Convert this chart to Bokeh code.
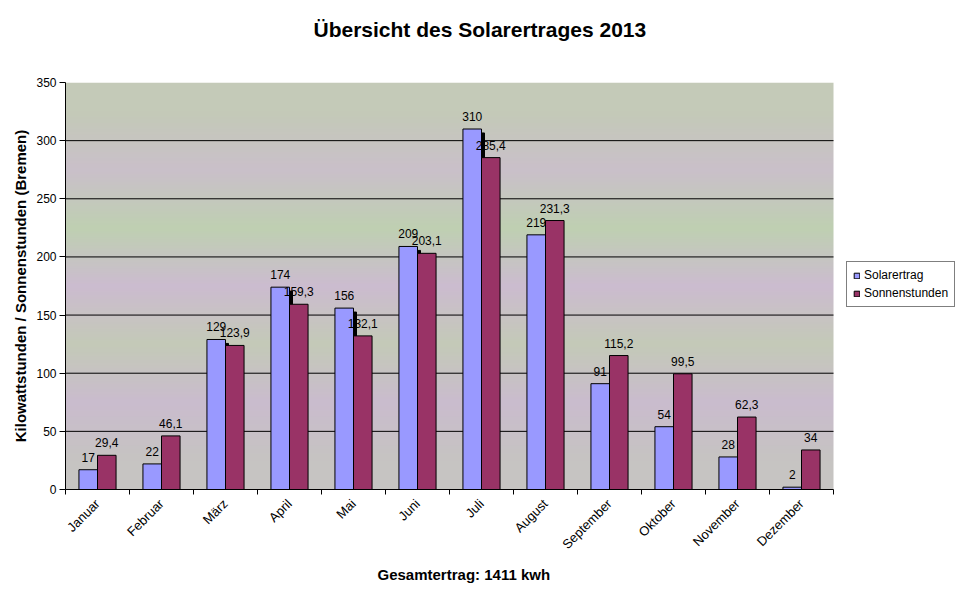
import numpy as np
from bokeh.plotting import figure
from bokeh.models import (FixedTicker, ColumnDataSource, Legend, LegendItem,
                          Range1d, Title)
from bokeh.transform import dodge
from bokeh.embed import file_html
from bokeh.resources import INLINE
from bokeh.core.properties import value

# ---- data ----
months = ["Januar", "Februar", "März", "April", "Mai", "Juni", "Juli",
          "August", "September", "Oktober", "November", "Dezember"]
solarertrag = [17, 22, 129, 174, 156, 209, 310, 219, 91, 54, 28, 2]
sonnenstunden = [29.4, 46.1, 123.9, 159.3, 132.1, 203.1, 285.4, 231.3,
                 115.2, 99.5, 62.3, 34]
y_ticks = [0, 50, 100, 150, 200, 250, 300, 350]
grid_ticks = [50, 100, 150, 200, 250, 300]
gesamtertrag = 1411

FONT = "Liberation Sans"
BLUE = "#9999FF"
MAROON = "#993366"

# ---- layout (pixels) ----
W, H = 958, 590
LEFT, TOP, BOTTOM, RIGHT = 65, 82, 101, 2
DATA_W = 768                       # width of the bar area
FRAME_W = W - LEFT - RIGHT
n = len(months)
x_end = n * FRAME_W / DATA_W       # room on the right for the legend


def de(v):
    return f"{v:g}".replace(".", ",")


xpos = [i + 0.5 for i in range(n)]
src = ColumnDataSource(dict(
    x=xpos,
    sol=solarertrag,
    son=sonnenstunden,
    shadow=[v - 3.4 for v in solarertrag],
    sol_lbl=[de(v) for v in solarertrag],
    son_lbl=[de(v) for v in sonnenstunden],
))

p = figure(width=W, height=H, output_backend="svg", toolbar_location=None,
           x_range=Range1d(0, x_end), y_range=Range1d(0, 350),
           min_border_left=LEFT, min_border_right=RIGHT, min_border_top=TOP,
           min_border_bottom=BOTTOM)
p.outline_line_color = None
p.background_fill_color = "white"
p.border_fill_color = "white"
p.xgrid.visible = False
p.ygrid.visible = False

# background gradient of the plot area (banded, like the dithered original)
band_y = [0, 25, 75, 125, 175, 225, 275, 325, 350]
band_c = ["#C6C4C2", "#C6C4C2", "#CABCCE", "#C4CAB8", "#CCBCD0", "#BFD0B2",
          "#CAC0CA", "#C4CAB8", "#C4CAB8"]
rows = 350
ys = np.linspace(0, 350, rows)
rgb = np.array([[int(c[i:i + 2], 16) for i in (1, 3, 5)] for c in band_c], float)
img = np.zeros((rows, 1), dtype=np.uint32)
view = img.view(dtype=np.uint8).reshape((rows, 1, 4))
for k in range(3):
    view[:, 0, k] = np.interp(ys, band_y, rgb[:, k]).astype(np.uint8)
view[:, 0, 3] = 255
p.image_rgba(image=[img], x=0, y=0, dw=n, dh=350, level="image")

# horizontal grid lines, only across the bar area
p.segment(x0=[0] * len(grid_ticks), x1=[n] * len(grid_ticks),
          y0=grid_ticks, y1=grid_ticks, line_color="black", line_width=1)

# bars
bw = 0.29
off = 0.145
p.vbar(x=dodge("x", -off + 0.047, range=p.x_range), top="shadow", width=bw,
       bottom=0, source=src, fill_color="black", line_color="black")
r1 = p.vbar(x=dodge("x", -off, range=p.x_range), top="sol", width=bw, source=src,
            fill_color=BLUE, line_color="black", line_width=1)
r2 = p.vbar(x=dodge("x", off, range=p.x_range), top="son", width=bw, source=src,
            fill_color=MAROON, line_color="black", line_width=1)

p.text(x=dodge("x", -off, range=p.x_range), y="sol", text="sol_lbl", source=src,
       text_align="center", text_baseline="bottom", y_offset=-8,
       text_font=value(FONT), text_font_size="12px", text_color="black")
p.text(x=dodge("x", off, range=p.x_range), y="son", text="son_lbl", source=src,
       text_align="center", text_baseline="bottom", y_offset=-8,
       text_font=value(FONT), text_font_size="12px", text_color="black")

# axes
ya = p.yaxis[0]
ya.ticker = FixedTicker(ticks=y_ticks)
ya.axis_label = "Kilowattstunden / Sonnenstunden (Bremen)"
ya.axis_label_text_font = FONT
ya.axis_label_text_font_style = "bold"
ya.axis_label_text_font_size = "15px"
ya.axis_label_text_color = "black"
ya.axis_label_standoff = 4
ya.major_label_text_font = FONT
ya.major_label_text_font_size = "12px"
ya.major_label_text_color = "black"
ya.major_label_standoff = 3
ya.major_tick_in = 0
ya.major_tick_out = 6
ya.minor_tick_line_color = None
ya.axis_line_color = "black"
ya.major_tick_line_color = "black"

xa = p.xaxis[0]
xa.bounds = (0, n)
xa.ticker = FixedTicker(ticks=xpos, minor_ticks=list(range(n + 1)))
xa.major_label_overrides = {x: m for x, m in zip(xpos, months)}
xa.major_label_orientation = np.pi / 4
xa.major_label_text_font = FONT
xa.major_label_text_font_size = "13px"
xa.major_label_text_color = "black"
xa.major_label_standoff = 6
xa.major_tick_line_color = None
xa.minor_tick_in = 0
xa.minor_tick_out = 5
xa.minor_tick_line_color = "black"
xa.axis_line_color = "black"

# x axis title, centred under the bar area as in the original
p.add_layout(Title(text=f"Gesamtertrag:  {gesamtertrag} kwh", align="left",
                   offset=312, standoff=6, text_font=FONT,
                   text_font_size="15px", text_font_style="bold",
                   text_color="black"), "below")

# chart title: a blank spacer next to the plot area pushes it to the top
p.title.text = ""
p.add_layout(Title(text=" ", text_font=FONT, text_font_size="12px",
                   standoff=26), "above")
p.add_layout(Title(text="Übersicht des Solarertrages 2013", align="left",
                   offset=248, standoff=0, text_font=FONT,
                   text_font_size="21px", text_font_style="bold",
                   text_color="black"), "above")

# legend (right of the bar area, inside the widened frame)
legend = Legend(items=[LegendItem(label="Solarertrag", renderers=[r1]),
                       LegendItem(label="Sonnenstunden", renderers=[r2])],
                location=(DATA_W + 13, 182), margin=0, padding=6, spacing=4,
                glyph_width=7, glyph_height=7, label_standoff=4,
                label_text_font=FONT, label_text_font_size="12px",
                label_text_color="black",
                border_line_color="black", border_line_width=1,
                background_fill_color="white", background_fill_alpha=1)
p.add_layout(legend)

open("out.html", "w").write(file_html(p, INLINE))
